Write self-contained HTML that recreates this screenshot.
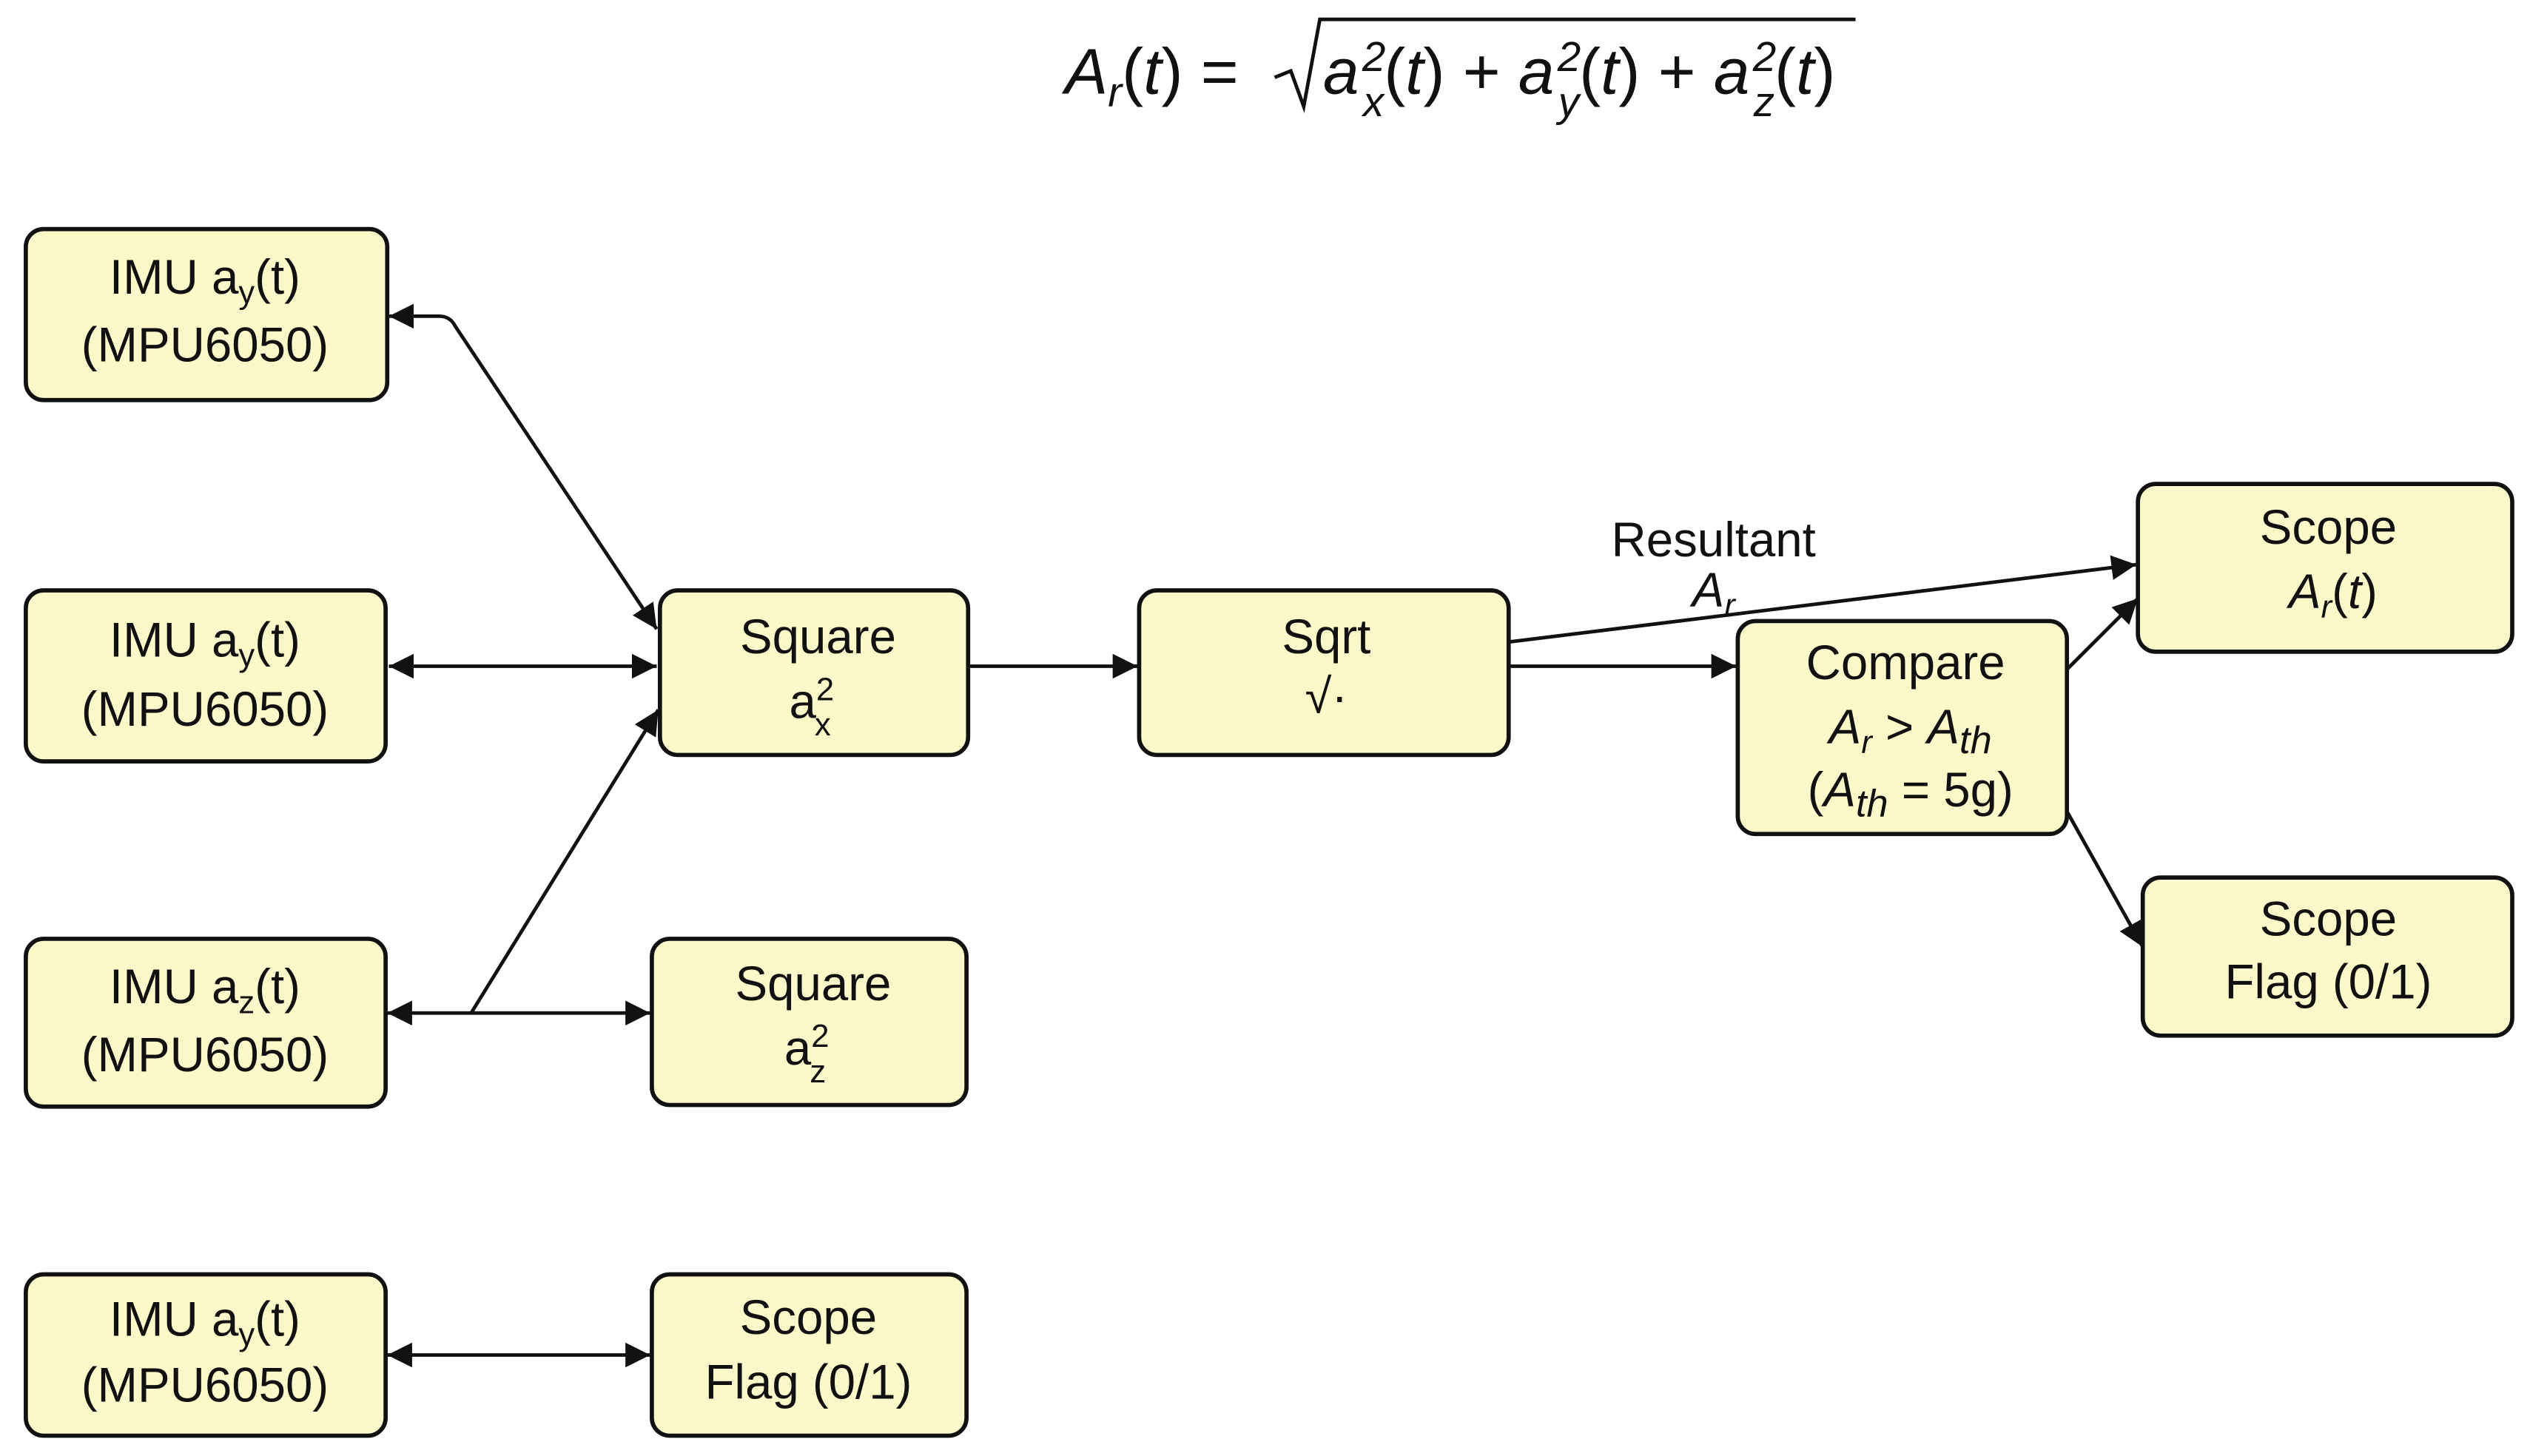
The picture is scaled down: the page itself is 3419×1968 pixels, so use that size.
<!DOCTYPE html>
<html><head><meta charset="utf-8"><style>
html,body{margin:0;padding:0;background:#fff;}
svg{display:block;}
text{font-family:"Liberation Sans","DejaVu Sans",sans-serif;fill:#111;}
.b{fill:#fbf8c9;stroke:#111;stroke-width:2.6;}
.l{stroke:#111;stroke-width:2.2;fill:none;}
.t{font-size:30px;text-anchor:middle;}
.s{font-size:20px;}
</style></head><body>
<svg width="3419" height="1968" viewBox="0 0 1568 902.6" preserveAspectRatio="none" xmlns="http://www.w3.org/2000/svg">
<defs>
<marker id="a" viewBox="0 0 10 10" refX="10" refY="5" markerWidth="7" markerHeight="7" orient="auto-start-reverse" markerUnits="strokeWidth"><path d="M0,0 L10,5 L0,10 z" fill="#111"/></marker>
</defs>
<!-- formula -->
<text x="660" y="58" style="font-size:40px;font-style:italic">A<tspan style="font-size:26px" dy="8">r</tspan><tspan dy="-8" style="font-style:normal">(</tspan>t<tspan style="font-style:normal">) =</tspan></text>
<path d="M790,48 L800,44 L808,66 L818,12 L1150,12" class="l" stroke-width="2"/>
<text x="820" y="58" style="font-size:40px;font-style:italic">a<tspan style="font-size:26px" dx="2" dy="-14">2</tspan><tspan style="font-size:26px" dx="-14" dy="28">x</tspan><tspan dy="-14" style="font-style:normal">(</tspan>t<tspan style="font-style:normal">) + </tspan>a<tspan style="font-size:26px" dx="2" dy="-14">2</tspan><tspan style="font-size:26px" dx="-14" dy="28">y</tspan><tspan dy="-14" style="font-style:normal">(</tspan>t<tspan style="font-style:normal">) + </tspan>a<tspan style="font-size:26px" dx="2" dy="-14">2</tspan><tspan style="font-size:26px" dx="-14" dy="28">z</tspan><tspan dy="-14" style="font-style:normal">(</tspan>t<tspan style="font-style:normal">)</tspan></text>

<!-- boxes -->
<rect class="b" x="16" y="142" width="224" height="106" rx="11"/>
<rect class="b" x="16" y="366" width="223" height="106" rx="11"/>
<rect class="b" x="16" y="582" width="223" height="104" rx="11"/>
<rect class="b" x="16" y="790" width="223" height="100" rx="11"/>
<rect class="b" x="409" y="366" width="191" height="102" rx="11"/>
<rect class="b" x="404" y="582" width="195" height="103" rx="11"/>
<rect class="b" x="404" y="790" width="195" height="100" rx="11"/>
<rect class="b" x="706" y="366" width="229" height="102" rx="11"/>
<rect class="b" x="1077" y="385" width="204" height="132" rx="11"/>
<rect class="b" x="1325" y="300" width="232" height="104" rx="11"/>
<rect class="b" x="1328" y="544" width="229" height="98" rx="11"/>

<!-- labels -->
<g class="t">
<text x="127" y="182">IMU a<tspan class="s" dy="6">y</tspan><tspan dy="-6">(t)</tspan></text>
<text x="127" y="224">(MPU6050)</text>
<text x="127" y="407">IMU a<tspan class="s" dy="6">y</tspan><tspan dy="-6">(t)</tspan></text>
<text x="127" y="450">(MPU6050)</text>
<text x="127" y="622">IMU a<tspan class="s" dy="6">z</tspan><tspan dy="-6">(t)</tspan></text>
<text x="127" y="664">(MPU6050)</text>
<text x="127" y="828">IMU a<tspan class="s" dy="6">y</tspan><tspan dy="-6">(t)</tspan></text>
<text x="127" y="869">(MPU6050)</text>
<text x="507" y="405">Square</text>
<text x="503" y="445">a<tspan class="s" dy="-11">2</tspan><tspan class="s" dx="-12" dy="22">x</tspan></text>
<text x="504" y="620">Square</text>
<text x="500" y="660">a<tspan class="s" dy="-11">2</tspan><tspan class="s" dx="-12" dy="22">z</tspan></text>
<text x="501" y="827">Scope</text>
<text x="501" y="867">Flag (0/1)</text>
<text x="822" y="405">Sqrt</text>
<text x="822" y="442">√·</text>
<text x="1181" y="421">Compare</text>
<text x="1184" y="461" style="font-style:italic">A<tspan class="s" dy="6">r</tspan><tspan dy="-6" style="font-style:normal"> &gt; </tspan>A<tspan style="font-size:24px" dy="6">th</tspan></text>
<text x="1184" y="500">(<tspan style="font-style:italic">A</tspan><tspan style="font-size:24px;font-style:italic" dy="6">th</tspan><tspan dy="-6"> = 5g)</tspan></text>
<text x="1443" y="337">Scope</text>
<text x="1446" y="377" style="font-style:italic">A<tspan class="s" dy="6">r</tspan><tspan dy="-6" style="font-style:normal">(</tspan>t<tspan style="font-style:normal">)</tspan></text>
<text x="1443" y="580">Scope</text>
<text x="1443" y="619">Flag (0/1)</text>
<text x="1062" y="345">Resultant</text>
<text x="1062" y="376" style="font-style:italic">A<tspan class="s" dy="6">r</tspan></text>
</g>

<!-- connectors -->
<path class="l" d="M241,196 L272,196 Q279,196 282,202 L407,390" marker-start="url(#a)" marker-end="url(#a)"/>
<path class="l" d="M241,413 L407,413" marker-start="url(#a)" marker-end="url(#a)"/>
<path class="l" d="M240,628 L403,628" marker-start="url(#a)" marker-end="url(#a)"/>
<path class="l" d="M292,628 L408,440" marker-end="url(#a)"/>
<path class="l" d="M240,840 L403,840" marker-start="url(#a)" marker-end="url(#a)"/>
<path class="l" d="M600,413 L705,413" marker-end="url(#a)"/>
<path class="l" d="M935,398 L1324,350" marker-end="url(#a)"/>
<path class="l" d="M935,413 L1076,413" marker-end="url(#a)"/>
<path class="l" d="M1281,415 L1325,371" marker-end="url(#a)"/>
<path class="l" d="M1281,503 L1328,587" marker-end="url(#a)"/>
</svg>
</body></html>
